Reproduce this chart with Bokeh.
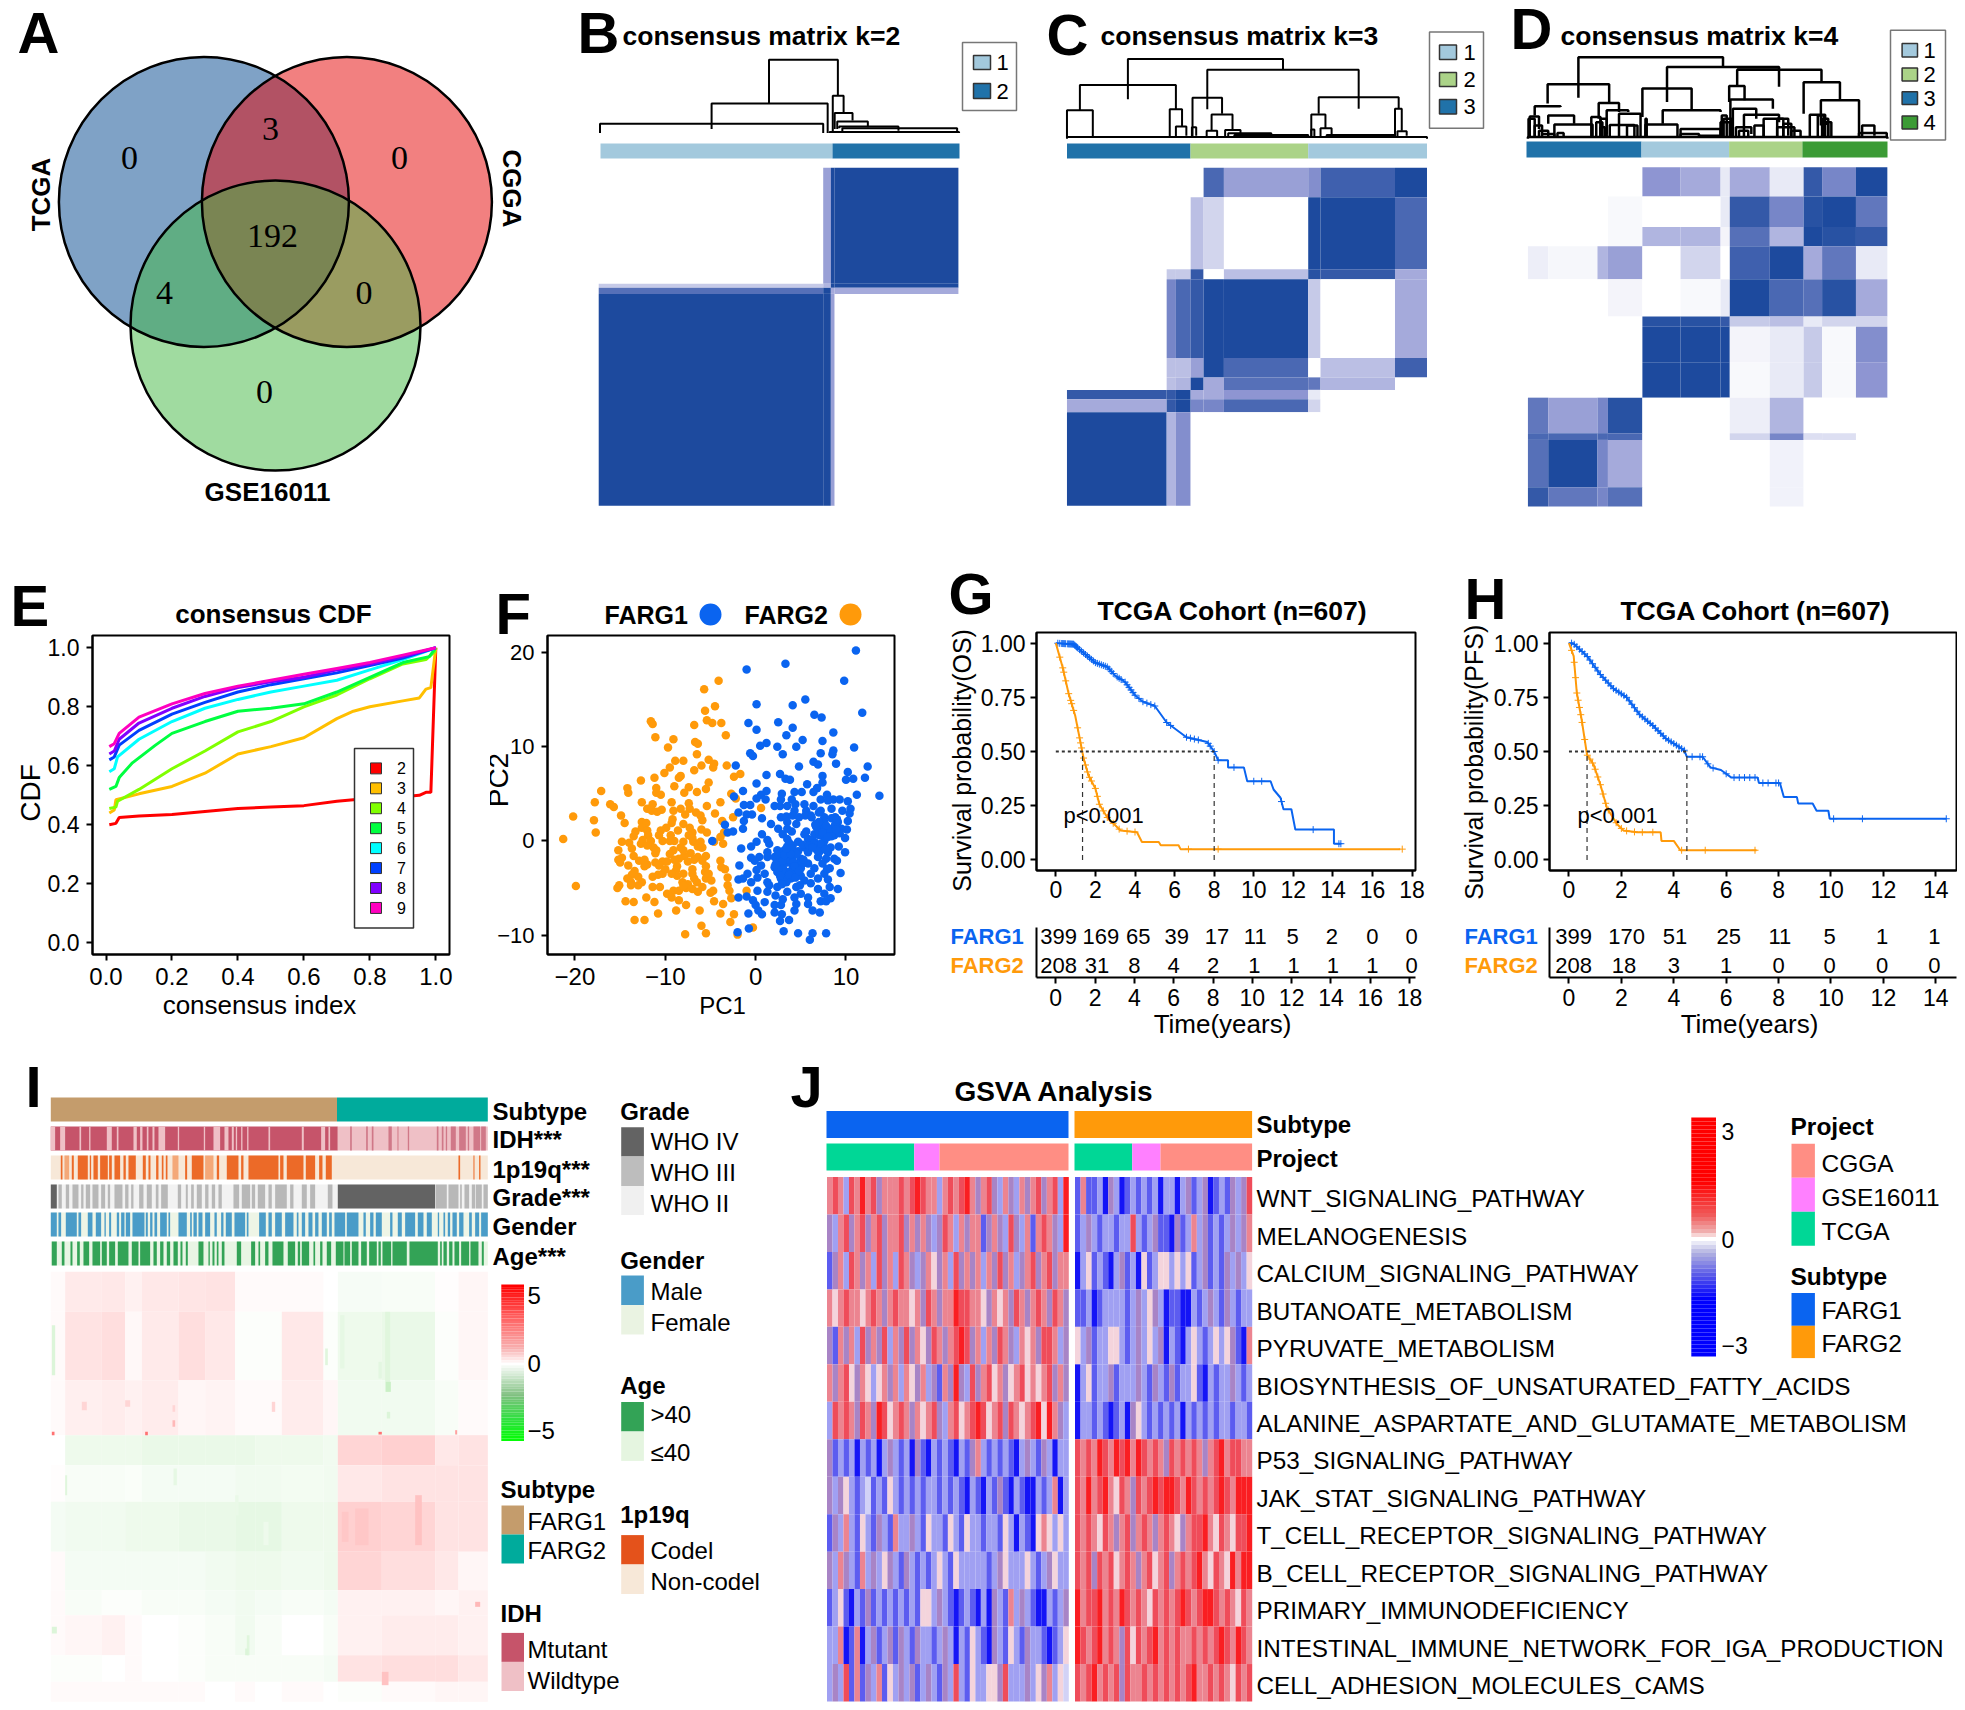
from bokeh.plotting import figure
from bokeh.models import Range1d, FixedTicker, PrintfTickFormatter
from bokeh.core.properties import value
from bokeh.layouts import row, column
from bokeh.embed import file_html
from bokeh.resources import INLINE
import numpy as np

SANS = "Liberation Sans"
SERIF = "Liberation Serif"

# ---------- A: Venn ----------
venn_names = ["TCGA", "CGGA", "GSE16011"]
venn_counts = ["0", "3", "0", "192", "4", "0", "0"]
# ---------- B-D: consensus matrices (read as blocks, 0..1 consensus) ----------
b_xe = [938, 1290, 1302, 1308, 1502]
b_ye = [495, 838, 850, 868, 1495]
b_vals = [[0, .45, 1, 1], [.25, .35, 1, 1], [.75, 1, .4, .4], [1, 1, .45, 0]]
c_xe = [108, 270, 285, 309, 330, 363, 500, 520, 641, 693]
c_ye = [495, 582, 795, 825, 1058, 1115, 1152, 1180, 1218, 1495]
c_vals = [[0, 0, 0, 0, .8, .45, .55, .85, 1],
          [0, 0, 0, .3, .2, 0, 1, 1, .8],
          [0, .25, .25, .9, 0, .3, .95, .9, .4],
          [0, .6, .8, .9, 1, 1, .25, 0, .4],
          [0, .3, .3, .45, 1, .8, 0, .3, .85],
          [0, .3, .35, 1, .4, .75, .7, .35, 0],
          [.9, .9, 1, .4, .4, .5, .1, 0, 0],
          [.4, .9, 1, .6, .6, .8, .2, 0, 0],
          [1, .35, .55, 0, 0, 0, 0, 0, 0]]
d_xe = [857, 890, 970, 987, 1043, 1105, 1170, 1185, 1250, 1305, 1335, 1390, 1441]
d_ye = [493, 580, 670, 727, 825, 935, 965, 1070, 1175, 1280, 1300, 1440, 1497]
d_vals = [[0, 0, 0, 0, .5, .4, .1, .4, .1, .9, .6, 1],
          [0, 0, 0, .03, 0, 0, .1, .9, .6, .95, 1, .7],
          [0, 0, 0, .03, .35, .35, .05, .75, .35, 1, .95, .9],
          [.08, .04, .35, .45, 0, .2, 0, .85, 1, .4, .7, .1],
          [0, 0, 0, .05, 0, .03, .1, 1, .8, .75, .95, .4],
          [0, 0, 0, 0, .95, .95, .9, .25, .3, .1, .2, .2],
          [0, 0, 0, 0, 1, 1, 1, .05, .1, .25, .03, .55],
          [0, 0, 0, 0, 1, 1, 1, .03, .1, .25, .03, .5],
          [.7, .45, .6, .95, 0, 0, 0, .08, .35, 0, 0, 0],
          [.8, .8, .8, .8, 0, 0, 0, .2, .6, .15, .15, 0],
          [.75, 1, .6, .4, 0, 0, 0, 0, .06, 0, 0, 0],
          [.9, .7, .6, .75, 0, 0, 0, 0, .06, 0, 0, 0]]
b_tree = [(1205, 1313, 305, 280, 175), (1115, 1297, 380, 392, 305), (940, 1290, 392, 392, 365),
          (1305, 1322, 392, 330, 282), (1308, 1336, 380, 355, 333), (1312, 1360, 380, 375, 358),
          (1315, 1408, 378, 385, 373), (1320, 1500, 392, 392, 378), (1300, 1503, 392, 392, 389)]
c_tree = [(207, 459, 292, 205, 173), (336, 582, 322, 320, 205), (129, 285, 325, 322, 250),
          (108, 150, 405, 405, 325), (275, 295, 405, 372, 322), (285, 302, 405, 400, 373),
          (312, 360, 405, 335, 288), (311, 318, 405, 400, 375), (343, 377, 385, 385, 337),
          (335, 352, 405, 405, 385), (365, 390, 405, 395, 383), (370, 440, 405, 400, 393),
          (380, 500, 405, 405, 398), (517, 647, 335, 320, 286), (505, 528, 405, 378, 337),
          (505, 510, 405, 405, 382), (520, 538, 405, 395, 378), (530, 640, 405, 405, 398),
          (641, 652, 405, 385, 320), (645, 660, 405, 400, 387), (108, 693, 409, 409, 404)]
d_tree = [(939, 1174, 288, 195, 168), (1083, 1265, 300, 255, 197), (1197, 1334, 250, 240, 205),
          (889, 989, 305, 300, 248), (868, 910, 340, 315, 313), (860, 875, 405, 380, 343),
          (890, 932, 365, 365, 340), (868, 880, 405, 395, 370), (900, 962, 405, 405, 367),
          (972, 1005, 350, 330, 303), (975, 985, 405, 405, 350), (985, 1020, 395, 330, 325),
          (1005, 1040, 405, 405, 335), (990, 1030, 405, 405, 368), (1043, 1123, 345, 325, 260),
          (1076, 1170, 365, 330, 325), (1048, 1100, 405, 405, 367), (1105, 1170, 405, 400, 380),
          (1184, 1209, 300, 295, 253), (1186, 1255, 405, 320, 293), (1190, 1228, 405, 350, 320),
          (1208, 1265, 405, 360, 338), (1195, 1220, 405, 395, 375), (1240, 1280, 405, 400, 350),
          (1305, 1364, 335, 295, 242), (1315, 1340, 405, 360, 338), (1333, 1395, 370, 405, 295),
          (1340, 1345, 405, 405, 365), (1400, 1420, 405, 400, 370), (1395, 1440, 405, 405, 392),
          (857, 1441, 409, 409, 404), (1197, 1265, 200, 200, 198), (968, 978, 405, 405, 360),
          (1172, 1180, 405, 405, 340), (1262, 1290, 405, 405, 375), (1335, 1345, 405, 405, 350),
          (960, 975, 405, 405, 345), (975, 982, 405, 405, 375), (1018, 1035, 405, 405, 370),
          (1175, 1188, 405, 405, 350), (1200, 1215, 405, 405, 385), (1225, 1240, 405, 405, 370),
          (1262, 1272, 405, 405, 350), (1272, 1285, 405, 405, 365), (1285, 1300, 405, 405, 385),
          (1328, 1338, 405, 405, 340), (1338, 1350, 405, 405, 360), (858, 868, 405, 405, 350),
          (875, 890, 405, 405, 385), (880, 900, 405, 405, 395), (905, 915, 405, 405, 392),
          (1048, 1050, 405, 405, 350), (1170, 1185, 405, 405, 360), (1105, 1135, 405, 405, 395),
          (1135, 1170, 405, 405, 400)]
# ---------- E: CDF ----------
cdf_k = ["2", "3", "4", "5", "6", "7", "8", "9"]
cdf_colors = ["#FF0000", "#FFBF00", "#80FF00", "#00FF40", "#00FFFF", "#0040FF", "#8000FF", "#FF00BF"]
cdf2_x = [.01, .03, .04, .1, .2, .3, .4, .5, .6, .7, .8, .9, .95, .97, .985, 1.0]
cdf2_y = [.40, .405, .425, .43, .435, .445, .455, .46, .465, .48, .49, .495, .50, .51, .51, 1.0]
cdf3_x = [.01, .025, .03, .1, .2, .3, .4, .5, .6, .7, .75, .8, .9, .95, .97, .985, 1.0]
cdf3_y = [.44, .45, .485, .505, .53, .575, .64, .665, .695, .76, .785, .80, .82, .83, .86, .865, 1.0]
cdf4_x = [.01, .03, .035, .1, .2, .3, .4, .5, .6, .7, .8, .9, .97, 1.0]
cdf4_y = [.455, .46, .48, .52, .59, .65, .715, .75, .80, .84, .895, .945, .96, .99]
cdf5_x = [.01, .03, .04, .08, .15, .2, .3, .4, .5, .6, .7, .8, .9, .98, 1.0]
cdf5_y = [.52, .53, .56, .61, .67, .71, .75, .785, .795, .81, .85, .90, .95, .97, 1.0]
cdf6_x = [.01, .025, .035, .1, .2, .3, .4, .5, .6, .7, .8, .9, 1.0]
cdf6_y = [.58, .59, .63, .69, .75, .795, .825, .85, .87, .89, .925, .96, 1.0]
cdf7_x = [.01, .025, .04, .1, .2, .3, .4, .5, .6, .7, .8, .9, 1.0]
cdf7_y = [.62, .63, .67, .72, .775, .815, .85, .875, .895, .915, .94, .965, 1.0]
cdf8_x = [.01, .025, .04, .1, .2, .3, .4, .5, .6, .7, .8, .9, 1.0]
cdf8_y = [.64, .65, .69, .745, .795, .835, .865, .885, .90, .925, .945, .97, 1.0]
cdf9_x = [.01, .025, .04, .1, .2, .3, .4, .5, .6, .7, .8, .9, 1.0]
cdf9_y = [.665, .675, .71, .765, .81, .845, .87, .89, .91, .93, .95, .975, 1.0]
# ---------- F: PCA ----------
farg2_pc1 = [-4.1,-5.7,-4.5,-5.6,-11.6,-11.4,-5.4,-4.8,-3.8,-6.8,-3.3,-11.1,-9.1,-6.7,-6.4,-9.7,-6.5,-8.9,-8.0,-5.2,-4.6,-4.7,-6.0,-3.2,-9.5,-10.1,-6.8,-11.2,-8.3,-8.5,-12.7,-2.4,-1.7,-5.2,-5.5,-9.0,-7.4,-11.0,-14.2,-14.1,-17.1,-11.0,-10.5,-7.9,-6.5,-2.7,-2.2,-17.8,-12.6,-9.3,-7.4,-3.9,-16.1,-15.7,-11.4,-5.4,-12.0,-11.5,-10.9,-10.4,-9.1,-8.3,-7.3,.6,-14.9,-20.2,-7.8,-6.6,-6.1,-4.5,-2.5,-17.9,-9.2,-5.9,-3.7,-14.5,-12.6,-12.1,-9.3,-8.0,-7.3,-12.6,-9.9,-12.0,-17.7,-13.3,-10.5,-8.6,-7.0,-6.0,-5.4,-3.5,-13.5,-11.9,-10.7,-9.4,-7.4,-3.9,-21.3,-12.5,-11.6,-10.3,-9.0,-8.0,-6.9,-6.1,-4.6,-3.6,-14.8,-14.0,-12.7,-8.3,-6.4,-5.9,-15.2,-13.7,-11.3,-9.1,-7.2,-9.5,-13.5,-11.1,-7.9,-6.4,-5.5,-15.2,-14.8,-12.9,-15.0,-10.3,-9.8,-11.1,-7.5,-5.9,-3.9,-12.0,-14.1,-12.3,-10.7,-8.7,-5.5,-3.8,-8.8,-13.4,-3.4,-10.3,-8.7,-7.0,-5.6,-13.7,-14.2,-11.4,-6.8,-5.5,-3.1,-13.8,-12.6,-8.1,-7.5,-6.5,-4.9,-13.0,-13.8,-15.1,-19.9,-15.3,-11.4,-10.6,-5.9,-7.0,-3.1,-9.1,-8.5,-6.4,-4.7,-1.0,-2.9,-9.8,-9.3,-12.1,-2.7,-14.4,-13.5,-8.5,-11.2,-4.6,-7.7,-3.6,-6.2,-8.8,-10.8,-3.9,-2.4,-13.4,-12.3,-6.0,-7.8,-5.5,-2.8,-2.0,-.3,-8.5,-10,-9.5,-7,-8,-11,-12,-13,-9,-8,-6.8,-6,-12.3,-10.8,-7.7,-7,-9.3,-5.2,-5,-8]
farg2_pc2 = [17.0,16.1,14.3,13.8,12.7,12.4,12.8,12.5,12.5,12.3,11.2,11.0,10.8,10.5,10.3,9.9,9.2,8.5,8.5,8.6,8.2,7.8,8.0,8.0,7.8,7.2,7.5,6.7,6.9,6.7,6.4,6.8,7.1,6.2,5.5,5.8,5.7,5.6,5.6,5.1,5.3,5.1,4.9,5.1,5.2,5.0,4.5,4.1,4.1,4.1,4.0,4.1,3.9,3.6,3.9,3.7,3.4,3.2,3.1,3.3,3.2,3.4,3.4,3.5,2.7,2.6,2.8,3.0,2.7,2.9,2.5,2.2,2.3,2.2,2.1,1.9,2.0,1.9,1.9,1.8,1.4,1.4,1.4,1.1,.9,1.0,1.1,1.1,.9,1.2,.9,.9,.5,.6,.6,.6,.6,.4,.2,.1,0,0,0,-.1,-.1,-.1,-.1,-.3,-.1,-.2,-.3,-.7,-.6,-.7,-1,-.8,-.7,-1,-1.3,-1.4,-1.6,-1.3,-1.6,-1.7,-1.6,-2,-1.8,-2.1,-2.3,-2.2,-2.2,-2.3,-2.2,-2.1,-2.1,-2.5,-2.6,-2.7,-2.6,-2.7,-2.7,-2.8,-3.1,-3.2,-3,-3.5,-3.7,-3.5,-3.3,-3.6,-4,-3.8,-4,-4,-3.9,-4.4,-4.4,-4.4,-4.6,-4.4,-4.2,-4.7,-4.7,-4.7,-4.8,-5,-4.9,-4.9,-4.9,-5.1,-4.7,-5.3,-5.3,-5.4,-5.3,-5.3,-5.3,-5.6,-6,-6,-6.1,-6.4,-6.5,-6.3,-6.5,-6.4,-6.8,-6.7,-7.4,-7.4,-7.7,-7.7,-7.8,-8.4,-8.4,-9.0,-9.9,-9.8,-8.6,-9.95,-9.2,-1.9,-3,0,.3,-1,-1,-.5,-3.8,-2,-3.5,-2,-.7,-2,-3.6,-5,-3,-3.5,-3.5,-5.5,-4.8]
farg1_pc1 = [11.1,3.3,-1.0,9.8,5.5,.1,4.1,11.8,6.5,7.3,-.8,2.5,4.1,.1,8.6,3.4,5.2,7.4,1.2,.5,2.4,4.5,10.9,8.6,8.5,7.2,3.0,-.6,-.3,6.4,6.9,8.9,12.4,4.8,-2.2,10.2,1.2,2.7,7.4,3.3,3.8,12.1,10.0,10.8,7.4,.1,5.7,6.8,6.4,-1.4,1.2,4.3,5.1,.6,2.9,11.2,13.7,7.9,-2.4,.1,1.1,2.8,4.0,7.2,8.0,8.6,9.3,10.2,-1.3,-.6,2.1,2.7,3.5,4.4,5.4,6.4,8.4,9.6,10.5,4.3,5.6,7.2,-1.9,-1.0,-.4,.7,2.8,3.4,4.1,4.8,6.1,7.6,8.4,10.4,-1.3,1.7,3.5,4.5,6.7,7.6,9.1,10.2,-3.4,-1.4,2.5,3.5,7.2,8.4,9.5,10.1,-3.1,-2.5,3.0,5.4,6.5,7.1,7.8,8.7,.7,9.9,3.5,5.8,4.7,6.5,7.6,1.3,1.5,.1,-4.8,-.5,-1.6,4.1,5.4,6.5,8.3,9.2,1.3,2.4,3.5,4.7,5.8,7.1,8.0,9.9,-.5,.4,1.3,2.1,3.0,4.1,5.0,6.9,7.8,8.7,-.1,2.4,3.5,4.7,5.8,7.4,9.0,-1.8,.6,2.1,3.0,4.1,5.0,6.5,8.2,.1,2.4,3.5,4.7,6.1,7.6,9.4,-.9,1.0,-1.9,-1.4,.2,2.8,3.9,5.4,6.9,8.0,-.5,1.3,3.4,6.1,.2,1.5,2.4,4.5,6.9,8.2,9.1,1.3,3.5,5.0,7.6,-1.9,-1.0,2.2,4.3,5.8,8.3,-.3,1.0,3.0,7.2,7.8,.0,2.1,2.8,4.5,5.8,-.8,.3,4.3,6.3,2.1,.7,7.1,2.9,3.7,2.7,-2.0,-.75,3.1,4.7,6.3,6.0,7.8,3.6,4.2,2.8,3.2,4.0,2.5,3.5,6.0,7.0,6.8,7.5,6.0,8.0,7.8,8.8,5.1,4.5,3.0,2.5,5.0,6.7,7.2,8.4,9.3,8.8,7.0,5.5,4.0,3.7,3.2,4.0,4.6,3.0,4.3,3.7,5.3,2.2,3.2,4.4,2.7,5.2,5.6,6.4,7.4,8.0,9.0,6.2,7.0,6.6,7.7,8.9,5.9,4.8,3.9,6.3,7.9,3.4,2.9,4.9]
farg1_pc2 = [20.2,18.8,18.2,17.0,15.0,14.5,14.4,13.6,13.4,13.1,12.5,12.6,12.0,11.8,11.5,11.2,10.7,10.6,10.4,10.1,10.0,10.0,9.9,9.6,9.2,9.3,9.2,9.3,9.0,8.4,8.1,8.2,7.9,7.9,8.0,7.3,7.0,7.1,6.9,6.6,6.5,6.7,6.5,6.6,6.2,6.1,6.0,5.6,5.2,5.3,5.3,5.2,5.2,4.9,5.0,4.9,4.8,4.9,4.7,4.5,4.4,4.4,4.4,4.4,4.3,4.4,4.4,4.2,3.8,3.8,3.7,3.7,3.7,3.9,3.9,3.7,3.4,3.2,3.4,3.2,3.2,3.2,3.0,2.8,2.8,2.4,2.5,2.6,2.7,2.5,2.7,2.5,2.4,2.9,2.1,1.8,2.0,1.8,1.8,2.0,2.0,2.1,1.7,1.3,1.3,1.3,1.3,1.3,1.3,1.2,.9,1.0,.7,.7,.7,.6,.7,.6,.7,.3,.2,.2,-.1,-.1,0,.1,-.3,-.1,0,-.6,-.8,-.5,-.7,-.7,-.7,-.6,-1.2,-1.0,-1.2,-1.1,-1.2,-1.1,-1.2,-1.2,-1.8,-1.7,-1.7,-1.7,-1.7,-1.7,-1.9,-1.7,-1.9,-1.9,-2.1,-2.3,-2.3,-2.4,-2.4,-2.4,-2.1,-2.6,-2.6,-2.8,-2.8,-2.9,-2.9,-2.9,-2.9,-3.1,-3.3,-3.3,-3.5,-3.5,-3.5,-3.4,-3.5,-3.5,-4.1,-4.0,-3.9,-4.0,-4.0,-4.2,-4.0,-4.1,-4.4,-4.4,-4.4,-4.5,-5.3,-4.7,-4.9,-4.9,-5.1,-4.9,-5.1,-5.4,-5.4,-5.6,-5.6,-6.0,-5.9,-5.8,-6.0,-6.0,-6.1,-6.3,-6.5,-6.2,-6.4,-6.4,-6.8,-6.8,-6.8,-6.7,-6.7,-7.7,-7.4,-7.4,-7.4,-7.6,-7.8,-7.6,-7.8,-8.4,-8.5,-9.7,-9.3,-9.6,-9.8,-9.8,-10.5,-9.8,-2,-2.3,-2,-3.8,-3.2,-1.4,-.6,.1,1,-1,-.5,-.3,1,1.6,1.7,-2.5,-1.4,-3,-3,-3.7,1.5,-.3,.5,.8,2.5,3,2.7,1,-.2,-1.0,-.8,-2.9,-2.1,-2.7,-3.6,-2.0,-2.5,-1.5,-3.9,-3.7,-.4,1.0,-.3,.9,.4,2.3,2.5,2.0,1.7,-.9,1.2,-.5,-3.2,-1.4,-.7,-3.0,-.8,-4.6,-4.7]
# ---------- G / H: survival ----------
os1_t = [0,.9,1.2,1.6,2,2.6,3,3.5,4,4.4,5,5.6,6.6,7.65,8,8.2,8.7,8.7,9.5,9.67,10.85,11,11.35,11.5,11.9,12.1,14.05,14.05,14.4]
os1_s = [1,.995,.97,.94,.91,.89,.85,.82,.76,.73,.71,.634,.566,.544,.5,.46,.46,.427,.427,.363,.363,.325,.287,.234,.234,.14,.14,.075,.075]
os2_t = [0,.34,.64,.98,1.25,1.4,1.65,2,2.2,2.6,3.27,4.1,4.35,5.2,5.3,6.2,6.3,17.4]
os2_s = [1,.89,.77,.665,.54,.47,.39,.33,.257,.196,.136,.128,.083,.083,.068,.068,.05,.05]
os1_cens = [.1,.2,.3,.35,.4,.45,.5,.6,.65,.7,.75,.8,.85,.9,.95,1,1.05,1.1,1.2,1.3,1.4,1.5,1.6,1.7,1.8,1.9,2,2.1,2.2,2.3,2.4,2.5,2.6,2.7,2.8,2.9,3.1,3.2,3.3,3.5,3.6,3.7,3.8,3.9,4,4.2,4.4,4.6,4.8,5,5.6,5.8,6.6,6.8,7,7.2,7.7,7.8,8,8.2,9,10,10.4,11.4,13,14.3,14.4]
os2_cens = [.2,.35,.4,.5,.65,.75,.8,.9,1.1,1.2,1.25,1.3,1.4,1.5,1.6,1.7,1.8,2,2.1,2.2,2.4,2.6,2.9,3.2,3.6,4,6.7,8.2,17.5]
pfs1_t = [0,.15,.69,1.2,1.7,2.2,2.7,3.2,3.7,4.4,4.5,5.1,5.4,5.8,6.2,7.2,7.25,8.05,8.2,8.7,8.75,9.3,9.45,9.9,9.95,14.4]
pfs1_s = [1,1,.94,.855,.79,.75,.67,.62,.56,.506,.476,.476,.427,.415,.38,.38,.355,.355,.29,.29,.26,.26,.227,.227,.19,.19]
pfs2_t = [0,.18,.3,.48,.69,.94,1.2,1.45,1.83,2.08,2.6,3.5,3.53,4,4.25,7.16]
pfs2_s = [1,.94,.77,.65,.485,.44,.347,.24,.166,.136,.128,.128,.088,.088,.045,.045]
pfs1_cens = [.1,.2,.3,.4,.5,.6,.7,.8,.9,1,1.1,1.2,1.3,1.4,1.5,1.6,1.7,1.8,1.9,2,2.1,2.2,2.3,2.4,2.5,2.6,2.7,2.8,2.9,3,3.1,3.2,3.3,3.4,3.5,3.6,3.7,3.8,3.9,4,4.1,4.2,4.3,4.4,4.7,5,5.1,5.3,5.5,6,6.3,6.5,6.7,6.9,7.1,7.4,7.6,7.9,8,10.1,11.2,14.4]
pfs2_cens = [.1,.2,.25,.3,.35,.4,.45,.5,.6,.7,.8,.9,1,1.1,1.2,1.3,1.4,1.5,1.8,2,2.2,2.5,2.8,3.2,4.3,5.2,7.1]
g_ticks = [0,2,4,6,8,10,12,14,16,18]
h_ticks = [0,2,4,6,8,10,12,14]
surv_ticks = [0,.25,.5,.75,1]
g_farg1 = ["399","169","65","39","17","11","5","2","0","0"]
g_farg2 = ["208","31","8","4","2","1","1","1","1","0"]
g_x1 = [.14,2.3,4.2,6.15,8.2,10.15,12.05,14.05,16.1,18.1]
g_x2 = [.14,2.1,4,6,8,10.1,12.1,14.1,16.1,18.1]
h_farg1 = ["399","170","51","25","11","5","1","1"]
h_farg2 = ["208","18","3","1","0","0","0","0"]
h_x1 = [.18,2.2,4.05,6.1,8.05,9.95,11.95,13.95]
h_x2 = [.18,2.1,4,6,8,9.95,11.95,13.95]
# ---------- I: annotation tracks as runs of samples (0..1311) ----------
idh_wild_left = [(0,13),(28,43),(86,91),(115,119),(168,183),(198,203),(248,258),(268,275),(288,293),(305,311),(323,343),(381,385),(459,463),(488,508),(521,533),(543,549),(555,559),(571,575),(589,593),(653,658),(753,759),(811,823),(833,838)]
idh_mut_right = [(898,903),(946,951),(963,968),(1013,1023),(1040,1043),(1071,1075),(1158,1163),(1173,1178),(1185,1189),(1200,1215),(1225,1245),(1251,1255),(1268,1288),(1291,1305)]
codel_runs = [(30,35),(63,69),(81,111),(117,121),(128,141),(148,171),(175,183),(191,208),(218,225),(233,255),(276,285),(293,299),(316,323),(333,338),(345,350),(403,409),(423,458),(498,505),(528,563),(571,578),(593,683),(688,698),(708,758),(765,793),(805,815),(825,843),(1223,1228),(1268,1271),(1285,1289)]
codel_mix = [(41,55),(365,383),(463,488)]
grade4_runs = [(0,18),(861,1153)]
grade3_runs = [(23,33),(45,55),(65,83),(91,98),(105,118),(125,143),(151,163),(171,178),(191,215),(223,233),(241,248),(265,278),(288,303),(315,323),(331,351),(381,391),(405,411),(421,429),(438,453),(463,473),(483,493),(503,513),(548,565),(573,598),(603,613),(621,643),(653,663),(673,708),(718,728),(753,768),(778,793),(831,845),(1155,1188),(1193,1223),(1228,1233),(1241,1255),(1263,1273),(1275,1293),(1298,1311)]
male_runs = [(0,18),(23,31),(45,78),(83,91),(111,125),(135,151),(161,165),(175,181),(198,205),(211,221),(225,238),(245,281),(285,291),(298,305),(311,319),(328,348),(353,358),(383,408),(418,423),(428,438),(443,455),(463,478),(491,498),(511,518),(525,543),(551,583),(588,593),(625,645),(653,663),(673,693),(703,728),(738,743),(753,763),(773,785),(793,803),(813,828),(835,843),(851,883),(888,923),(938,945),(958,968),(975,993),(1018,1025),(1041,1053),(1063,1093),(1101,1118),(1128,1143),(1161,1165),(1178,1183),(1191,1198),(1205,1218),(1225,1238),(1255,1263),(1273,1285),(1291,1311)]
old_runs = [(3,18),(33,41),(59,65),(79,87),(98,115),(125,148),(153,168),(175,193),(201,233),(243,263),(268,298),(308,318),(328,338),(348,358),(368,381),(389,395),(405,411),(443,458),(473,477),(485,491),(498,503),(513,521),(558,571),(601,613),(623,628),(643,653),(665,698),(711,733),(741,748),(753,775),(788,793),(808,815),(828,841),(855,878),(881,898),(903,923),(931,948),(955,978),(983,990),(995,1021),(1025,1068),(1076,1161),(1168,1173),(1178,1188),(1195,1205),(1211,1225),(1231,1255),(1259,1283),(1293,1299)]
# ---------- I: expression heatmap, read as blocks ----------
i_xe = [7,50,160,230,280,390,470,560,620,700,825,868,1000,1160,1230,1318]
i_ye = [10,130,335,500,590,700,850,965,1040,1160,1240,1300]
i_vals = [[.1,.45,.5,.3,.5,.55,.6,.1,.1,.1,0,-.25,-.2,.05,.2],
          [.1,.6,.7,.15,.45,.7,.5,-.1,-.1,.5,-.1,-.5,-.6,-.1,.2],
          [.1,.35,.4,.3,.4,.2,.25,.1,.1,.4,.2,-.4,-.4,-.2,.1],
          [0,-.5,-.5,-.5,-.6,-.6,-.6,-.6,-.5,-.5,-.4,.9,1,.5,.6],
          [.05,-.2,-.2,-.15,-.3,-.3,-.3,-.4,-.4,-.35,-.4,.5,.6,.6,.6],
          [-.3,-.4,-.4,-.5,-.5,-.6,-.6,-.7,-.7,-.5,-.5,1,.9,.6,.6],
          [.1,-.3,-.3,-.3,-.3,-.3,-.4,-.5,-.5,-.4,-.5,.9,.7,.5,.2],
          [.1,-.2,-.1,-.1,-.2,-.2,-.3,-.4,-.3,-.2,-.3,.3,.3,.2,.3],
          [.1,.2,.3,.1,0,-.1,-.2,-.4,-.2,0,-.2,.3,.4,.4,.3],
          [-.1,-.1,0,.1,0,-.1,-.2,-.2,-.2,-.2,-.3,.6,.7,.7,.5],
          [.1,.1,.1,.1,.1,.1,0,.1,0,.1,0,-.1,.1,.2,.2]]
i_spots = [(10,20,170,320,-1),(1010,1025,130,370,-.9),(875,888,140,300,-.7),(1080,1090,140,260,-.6),(990,1000,280,330,-.8),(1012,1027,340,370,-1.5),(1015,1025,430,450,-1),(830,838,240,290,-.9),(595,603,1100,1160,-.9),(372,380,455,475,1.5),(372,380,410,430,.9),(670,680,400,430,.9),(100,115,400,425,.9),(230,245,395,415,.9),(50,56,620,680,-.9),(375,385,600,650,-.7),(560,570,680,740,-.6),(645,660,760,830,-.5),(920,960,720,830,1.2),(1100,1120,680,830,1.3),(880,900,730,820,1.2),(1000,1020,1210,1250,1.3),(1280,1295,1000,1015,1.5),(10,25,1075,1095,-1),(590,600,1140,1160,-1),(10,18,490,500,3),(290,298,490,500,3),(990,1000,490,498,3),(1220,1226,485,498,2)]
# ---------- J: GSVA ----------
gsva_names = ["WNT_SIGNALING_PATHWAY","MELANOGENESIS","CALCIUM_SIGNALING_PATHWAY","BUTANOATE_METABOLISM","PYRUVATE_METABOLISM","BIOSYNTHESIS_OF_UNSATURATED_FATTY_ACIDS","ALANINE_ASPARTATE_AND_GLUTAMATE_METABOLISM","P53_SIGNALING_PATHWAY","JAK_STAT_SIGNALING_PATHWAY","T_CELL_RECEPTOR_SIGNALING_PATHWAY","B_CELL_RECEPTOR_SIGNALING_PATHWAY","PRIMARY_IMMUNODEFICIENCY","INTESTINAL_IMMUNE_NETWORK_FOR_IGA_PRODUCTION","CELL_ADHESION_MOLECULES_CAMS"]
gsva_left = [
 [1,2,1,-1,2,1,3,1,2,0,1,1,1,2,1,2,3,2,1,1,-1,1,2,1,2,3,1,0,1,2,0,-1,1,0,-1,1,0,1,2,0,1,2,-1,3],
 [0,-1,1,2,0,1,2,0,1,2,0,1,1,2,0,1,0,1,0,-1,0,2,1,-1,1,0,1,1,-2,0,1,0,-1,2,0,-1,1,-2,1,2,1,0,-1,3],
 [-2,0,1,-1,2,1,0,1,-1,2,0,1,-1,2,1,0,-1,0,1,.5,0,1,-1,2,0,1,0,1,-1,1,0,2,0,1,-1,0,1,2,0,1,2,0,1,1],
 [1,.5,1,2,1,1,.5,1,2,1,0,1,2,1,1,.5,1,0,2,1,0,1,1,3,2,2,1,1,.5,0,1,.5,1,0,2,1,0,1,2,1,0,2,1,0],
 [0,-2,1,0,1,-1,2,0,1,0,2,-1,1,0,2,0,1,.5,0,2,1,0,1,2,3,2,0,1,-1,1,0,2,1,0,-1,1,.5,1,0,2,2,1,-1,0],
 [1,0,1,2,.5,0,1,.5,-1,.5,1,0,1,-1,1,.5,0,1,-1,0,-2,1,0,3,0,-1,2,0,1,2,.5,1,0,.5,1,2,.5,1,.5,1,2,0,1,0],
 [-1,2,1,2,1,0,2,1,0,3,2,.5,1,2,1,0,1,.5,1,2,0,-1,1,2,.5,1,2,3,2,.5,1,2,0,2,1,.5,1,2,3,.5,3,1,0,-1],
 [0,-2,-1,-2,-1,-3,-1,-2,-1,-3,-1,0,-1,-2,-1,-3,0,-2,-3,-1,-2,-1,-2,-3,-1,-2,0,1,-1,-2,-1,-2,-1,-2,-3,-1,0,-1,-2,0,-1,-3,-1,-1],
 [0,-1,0,.5,-1,-2,-1,-.5,-2,-1,-2,.5,-1,-2,-1,-2,-1,-2,-1,-1,-2,-1,-2,-1,-2,-3,-1,-2,-3,-1,-2,0,-2,-3,-1,-2,-3,-3,-1,-2,-1,1,-3,-1],
 [-2,0,-1,1,-1,-2,.5,-1,-2,0,-1,-2,1,-1,-1,0,-1,-2,.5,-1,-1,-2,.5,-1,-2,.5,-1,-1,-2,-1,-1,-2,.5,-1,-3,-1,-2,-3,.5,1,.5,-1,.5,-1],
 [0,-1,1,0,-1,-2,1,-1,0,-1,.5,0,-1,-2,0,-1,-2,-1,-2,-1,.5,-1,-2,.5,-1,-1,-1,-1,-1,-2,-1,0,.5,-1,-1,-1,.5,-1,-2,-1,0,.5,-1,-1],
 [-2,-1,.5,-2,-3,-1,-2,0,-2,-1,-2,-1,-2,-1,-2,-1,-2,.5,.5,-1,0,-1,-2,-3,-2,-1,-2,-3,-1,-3,0,-1,-2,1,-1,0,-1,-2,-3,-3,-1,-2,-1,0],
 [-1,-1,1,-3,-2,1,-3,-1,0,-2,-1,0,-2,0,-1,-2,0,-1,-1,-2,-1,0,-1,-3,-1,-2,.5,-1,-2,-3,0,-1,-2,.5,-1,-2,0,-1,-1,-2,-3,-2,-1,.5],
 [-1,0,-1,2,-2,1,-2,0,-1,1,-2,.5,-1,0,-1,0,-2,-1,0,-1,-2,0,-1,2,-1,-2,.5,-1,-1,.5,.5,0,2,-1,-1,-1,0,-1,.5,0,1,-1,.5,-.5]]
gsva_right = [
 [-2,1,-2,-2,-1,-3,0,-1,-3,-2,-1,-2,-1,-2,-1,-3,-1,-1,-3,-1,0,-2,-1,0,-3,-2,-1,-2,0,-1,0,2],
 [-2,-1,0,-1,-2,-1,-1,-2,-1,-1,2,-1,-2,-1,0,-2,-2,-3,0,-2,-1,1,-1,0,-2,-1,-2,-1,0,-1,0,1],
 [-3,-1,.5,-2,-1,-2,-3,-1,0,-2,-1,-3,.5,-2,-1,.5,.5,-1,.5,-1,.5,-2,-1,0,-2,-1,-2,0,-1,0,-1,.5],
 [-2,-2,-1,-3,-2,-1,-1,-1,-1,-2,-1,0,-1,.5,0,-1,-3,-2,-2,-3,-3,-1,-2,-1,0,-1,-2,0,-1,-2,-1,-1],
 [.5,-1,0,-2,-1,-1,.5,.5,-1,-2,-1,0,-1,.5,-1,0,-3,-1,-2,-3,-1,.5,-1,-2,-1,.5,-1,.5,0,-2,-3,1],
 [-3,-1,.5,-2,-1,-1,0,-2,-1,-1,-1,0,-1,-2,0,-1,-2,0,-2,-1,-1,.5,-2,-3,-1,-2,-1,-1,0,-1,-2,-1],
 [-3,-1,-1,-2,-1,-2,-3,-2,-1,-3,0,.5,-1,-2,-1,-2,-1,-2,-1,-3,-1,-2,-1,-2,-1,-2,-1,-1,-2,-1,-1,-2],
 [2,1,2,1,3,2,1,3,2,3,1,3,2,1,2,1,0,2,1,2,1,2,1,0,1,2,3,1,2,2,1,1],
 [2,1,3,1,2,3,1,.5,2,1,0,2,1,2,3,2,3,3,2,1,3,2,1,2,1,2,3,2,1,3,3,3],
 [2,1,2,1,.5,2,1,0,1,2,0,1,2,1,0,1,2,1,.5,0,1,2,2,3,1,.5,2,1,.5,2,2,3],
 [2,1,2,0,2,1,2,.5,1,2,1,0,1,2,.5,1,2,0,1,2,1,2,3,1,.5,2,1,.5,3,1,3,3],
 [3,1,2,2,3,1,2,1,3,2,1,2,1,.5,2,1,2,1,2,3,2,1,2,3,3,2,1,2,1,.5,2,1],
 [3,2,1,2,3,1,2,1,0,2,.5,2,1,2,3,1,2,1,2,1,1,2,1,2,1,2,3,2,1,3,2,1],
 [2,1,2,3,1,2,1,2,0,2,1,1,2,1,2,1,2,1,2,1,2,3,1,1,2,1,2,1,.5,2,1,2]]
gsva_pal = {-3:"#1414F6",-2:"#5C5CF0",-1:"#A0A0F2",-.5:"#D2D2F6",0:"#A884C6",.5:"#F4D4DC",1:"#EC8490",2:"#EF4C5A",3:"#FA1E22"}

BLUE = "#0A64F0"; ORANGE = "#FF9A0A"; MAT = "#1D4A9E"
LIGHT = "#A3C9DD"; DARK = "#2072A9"; GREEN = "#ABD388"; DGREEN = "#3B9B35"
FR = {}

def hex2(c): return np.array([int(c[i:i+2], 16) for i in (1, 3, 5)], float)
def lerp(a, b, t):
    v = hex2(a) + (hex2(b) - hex2(a)) * t
    return "#%02X%02X%02X" % tuple(int(round(x)) for x in v)
def grad(stops, t):
    for (t0, c0), (t1, c1) in zip(stops, stops[1:]):
        if t <= t1:
            return lerp(c0, c1, (t - t0) / (t1 - t0))
    return stops[-1][1]

def fig(pl, pt, pr, pb, fl=None, ft=None, fr=None, fb=None, xr=None, yr=None):
    fl = pl if fl is None else fl; ft = pt if ft is None else ft
    fr = pr if fr is None else fr; fb = pb if fb is None else fb
    data = xr is not None
    kw = {} if data else dict(x_axis_type=None, y_axis_type=None)
    xr = xr or (fl, fr); yr = yr or (fb, ft)
    p = figure(width=pr - pl, height=pb - pt, x_range=Range1d(*xr), y_range=Range1d(*yr),
               toolbar_location=None, output_backend="svg",
               min_border_left=fl - pl, min_border_right=pr - fr, min_border_top=ft - pt,
               min_border_bottom=pb - fb, outline_line_color=None, **kw)
    FR[p.id] = (fl, ft, fr, fb, xr, yr)
    if data:
        p.grid.visible = False
    return p

def px(p, x):
    fl, ft, fr, fb, xr, yr = FR[p.id]
    return xr[0] + (np.asarray(x, float) - fl) / (fr - fl) * (xr[1] - xr[0])
def py(p, y):
    fl, ft, fr, fb, xr, yr = FR[p.id]
    return yr[0] + (fb - np.asarray(y, float)) / (fb - ft) * (yr[1] - yr[0])

def Td(p, x, y, s, size=22, bold=False, align="left", base="middle", color="black", angle=0, font=SANS):
    p.text([float(x)], [float(y)], text=[s], text_font=value(font), text_font_size=f"{size}px",
           text_font_style="bold" if bold else "normal", text_align=align, text_baseline=base,
           text_color=color, angle=angle, angle_units="deg", level="overlay")
def T(p, x, y, s, **k):
    Td(p, px(p, x), py(p, y), s, **k)
def Q(p, l, t, r, b, c, lc=None, lw=1):
    p.quad(left=px(p, l), right=px(p, r), top=py(p, t), bottom=py(p, b), fill_color=c,
           line_color=lc, line_width=lw)
def letter(p, x, y, s):
    T(p, x, y - 20, s, size=58, bold=True)

def blocks(p, xe, ye, vals, kx, ky, x0, y0, colorf):
    l, r, t, b, c = [], [], [], [], []
    for i, rowv in enumerate(vals):
        for j, v in enumerate(rowv):
            l.append(x0 + xe[j] * kx); r.append(x0 + xe[j + 1] * kx)
            t.append(y0 + ye[i] * ky); b.append(y0 + ye[i + 1] * ky); c.append(colorf(v))
    Q(p, l, t, r, b, c)

def tree(p, merges, kx, ky, x0, lw=2):
    xs, ys = [], []
    for xl, xr, yl, yr, yt in merges:
        xs.append([x0 + xl * kx, x0 + xl * kx, x0 + xr * kx, x0 + xr * kx])
        ys.append([yl * ky, yt * ky, yt * ky, yr * ky])
    p.multi_line(xs, ys, line_color="black", line_width=lw)

def boxlegend(p, box, sw, items, xt):
    Q(p, [box[0]], [box[1]], [box[2]], [box[3]], "white", "#777777", 1.5)
    for (t, b, c), s in zip(sw[2], items):
        Q(p, [sw[0]], [t], [sw[1]], [b], c, "#333333", 1.5)
        T(p, xt, (t + b) / 2, s, size=22)

ky1 = 530 / 1568
mat_stops = [(0, "#FFFFFF"), (.5, "#8E95D2"), (1, MAT)]
matc = lambda v: grad(mat_stops, v)
# ===== A =====
A = fig(0, 0, 575, 560)
A.circle([203.4], [201.4], radius=145, fill_color="#00458D", fill_alpha=.5, line_color=None)
A.circle([346.4], [201.4], radius=145, fill_color="#E50101", fill_alpha=.5, line_color=None)
A.circle([275], [325], radius=145, fill_color="#41B741", fill_alpha=.5, line_color=None)
A.circle([203.4, 346.4, 275], [201.4, 201.4, 325], radius=145, fill_color=None, line_color="black", line_width=2.5)
for (x, y), s in zip([(129, 157), (270, 128), (399, 157), (272, 235), (164, 292), (363.5, 292), (264, 391)], venn_counts):
    T(A, x, y, s, size=34, align="center", font=SERIF)
T(A, 40, 194, venn_names[0], size=26, bold=True, align="center", angle=90)
T(A, 511, 188, venn_names[1], size=26, bold=True, align="center", angle=-90)
T(A, 267, 491, venn_names[2], size=26, bold=True, align="center")
letter(A, 17, 52, "A")
# ===== B =====
B = fig(575, 0, 1040, 560)
k = 1000 / 1568
blocks(B, b_xe, b_ye, b_vals, k, ky1, 0, 0, matc)
tree(B, b_tree, k, ky1, 0)
Q(B, [600, 832], [143, 143], [832, 959], [158, 158], [LIGHT, DARK])
boxlegend(B, (962, 42, 1016, 110), (973, 990, [(55, 69, LIGHT), (83, 98, DARK)]), ["1", "2"], 996)
T(B, 622, 35, "consensus matrix k=2", size=26.5, bold=True)
letter(B, 577, 52, "B")
# ===== C =====
C = fig(1040, 0, 1505, 560)
k = 965 / 1568
blocks(C, c_xe, c_ye, c_vals, k, ky1, 1000, 0, matc)
tree(C, c_tree, k, ky1, 1000)
Q(C, [1066.5, 1190, 1307.7], [143] * 3, [1190, 1307.7, 1426.5], [158] * 3, [DARK, GREEN, LIGHT])
boxlegend(C, (1429, 31.4, 1483, 127.8), (1439, 1456, [(44.6, 59, LIGHT), (72, 86, GREEN), (99, 113.6, DARK)]), ["1", "2", "3"], 1463)
T(C, 1100, 35, "consensus matrix k=3", size=26.5, bold=True)
letter(C, 1046, 54, "C")
# ===== D =====
D = fig(1505, 0, 1957, 560)
blocks(D, d_xe, d_ye, d_vals, k, ky1, 1000, 0, matc)
tree(D, d_tree, k, ky1, 1000, lw=2.5)
Q(D, [1526, 1641, 1728.6, 1801.9], [141] * 4, [1641, 1728.6, 1801.9, 1887], [157] * 4, [DARK, LIGHT, GREEN, DGREEN])
boxlegend(D, (1890, 29.7, 1945, 139.6), (1901.6, 1917, [(43, 56.5, LIGHT), (67.6, 80.4, GREEN), (91.3, 104, DARK), (115.6, 128.4, DGREEN)]), ["1", "2", "3", "4"], 1923)
T(D, 1560, 35, "consensus matrix k=4", size=26.5, bold=True)
letter(D, 1510, 48, "D")

def style_axes(p, xt, yt, size=22, ysize=None, lw=2, standoff=(7, 7)):
    for ax, t, so, sz in ((p.xaxis[0], xt, standoff[0], size), (p.yaxis[0], yt, standoff[1], ysize or size)):
        ax.ticker = FixedTicker(ticks=t)
        ax.major_label_text_font = SANS
        ax.major_label_text_font_size = f"{sz}px"
        ax.major_label_text_color = "black"
        ax.axis_line_color = "black"; ax.axis_line_width = lw
        ax.major_tick_line_color = "black"; ax.major_tick_line_width = lw
        ax.major_tick_in = 0; ax.major_tick_out = 6; ax.minor_tick_line_color = None
        ax.major_label_standoff = so
    p.outline_line_color = "black"; p.outline_line_width = lw

# ===== E =====
E = fig(0, 560, 490, 1062, 92, 635, 449, 955, (-.041, 1.0415), (-.0395, 1.0416))
style_axes(E, [0, .2, .4, .6, .8, 1], [0, .2, .4, .6, .8, 1], size=24, ysize=23)
E.xaxis[0].formatter = PrintfTickFormatter(format="%.1f")
E.yaxis[0].formatter = PrintfTickFormatter(format="%.1f")
for xs, ys, c in zip([cdf2_x, cdf3_x, cdf4_x, cdf5_x, cdf6_x, cdf7_x, cdf8_x, cdf9_x],
                     [cdf2_y, cdf3_y, cdf4_y, cdf5_y, cdf6_y, cdf7_y, cdf8_y, cdf9_y], cdf_colors):
    E.line(xs, ys, line_color=c, line_width=3)
Q(E, [354], [748.3], [413], [928.3], "white", "#333333", 1.5)
for i, (c, s) in enumerate(zip(cdf_colors, cdf_k)):
    cy = 768.3 + 20 * i
    Q(E, [370], [cy - 5.5], [381], [cy + 5.5], c, "#333333", 1)
    T(E, 401, cy, s, size=16, align="center")
T(E, 273, 613, "consensus CDF", size=26, bold=True, align="center")
T(E, 259, 1006, "consensus index", size=26, align="center")
T(E, 30, 793, "CDF", size=28, align="center", angle=90)
letter(E, 10, 625, "E")
# ===== F =====
F = fig(490, 560, 940, 1062, 547, 634, 894, 954, (-23.04, 15.37), (-12.06, 21.8))
style_axes(F, [-20, -10, 0, 10], [-10, 0, 10, 20], size=24, ysize=22)
F.xaxis[0].major_label_overrides = {-20: "\u221220", -10: "\u221210", 0: "0", 10: "10"}
F.yaxis[0].major_label_overrides = {-10: "\u221210", 0: "0", 10: "10", 20: "20"}
F.scatter(farg2_pc1, farg2_pc2, size=8.5, fill_color=ORANGE, line_color=None)
F.scatter(farg1_pc1, farg1_pc2, size=8.5, fill_color=BLUE, line_color=None)
T(F, 604, 613, "FARG1", size=25, bold=True)
T(F, 744, 613, "FARG2", size=25, bold=True)
F.scatter(px(F, [710, 850]), py(F, [613, 613]), size=22, fill_color=[BLUE, ORANGE], line_color=None, level="overlay")
T(F, 722, 1005, "PC1", size=24, align="center")
T(F, 498, 779, "PC2", size=28, align="center", angle=90)
letter(F, 495, 632, "F")

def km(pl, pr, fl, fr, xr, xt, c1, c2, cens1, cens2, med, title, ylab, tx, ptx, ltr, lx, ly, ylx, yly):
    p = fig(pl, 560, pr, 900, fl, 632, fr, 874, xr, (-.0485, 1.049))
    style_axes(p, xt, surv_ticks, size=23, standoff=(4, 5))
    p.yaxis[0].formatter = PrintfTickFormatter(format="%.2f")
    for (t, s), cens, col in ((c1, cens1, BLUE), (c2, cens2, ORANGE)):
        p.line(t, s, line_color=col, line_width=2)
        p.scatter(cens, np.interp(cens, t, s), marker="cross", size=7, line_color=col, line_width=1)
    p.line([0, med[1]], [.5, .5], line_color="#333333", line_dash="3 3", line_width=2)
    for m in med:
        p.line([m, m], [0, .5], line_color="#333333", line_dash="5 4", line_width=1.2)
    T(p, tx, 610, title, size=26.5, bold=True, align="center")
    T(p, ylx, yly, ylab, size=25, align="center", angle=90)
    T(p, ptx, 818, "p<0.001", size=22)
    letter(p, lx, ly, ltr)
    return p

def table(pl, pr, fl, fr, xr, xt, r1, r2, x1, x2, labx, timex):
    p = fig(pl, 900, pr, 1062, fl, 927, fr, 977, xr, (0, 50))
    style_axes(p, xt, [], size=23, standoff=(5, 5))
    p.outline_line_color = None
    p.yaxis[0].major_tick_line_color = None
    for vals, xs, yp in ((r1, x1, 936), (r2, x2, 964.5)):
        for v, x in zip(vals, xs):
            Td(p, x, py(p, yp), v, size=22, align="center")
    T(p, labx, 936, "FARG1", size=22, bold=True, color=BLUE)
    T(p, labx, 964.5, "FARG2", size=22, bold=True, color=ORANGE)
    T(p, timex, 1023, "Time(years)", size=26, align="center")
    return p

G = km(940, 1460, 1036, 1415, (-.976, 18.17), g_ticks, (os1_t, os1_s), (os2_t, os2_s), os1_cens, os2_cens,
       [1.35, 8.0], "TCGA Cohort (n=607)", "Survival probability(OS)", 1232, 1063, "G", 948, 612, 961, 762)
Gt = table(940, 1460, 1036, 1415, (-.98, 18.3), g_ticks, g_farg1, g_farg2, g_x1, g_x2, 950, 1222)
H = km(1460, 1957, 1549, 1956, (-.743, 14.79), h_ticks, (pfs1_t, pfs1_s), (pfs2_t, pfs2_s), pfs1_cens, pfs2_cens,
       [.69, 4.5], "TCGA Cohort (n=607)", "Survival probability(PFS)", 1755, 1577, "H", 1464, 617, 1473, 764)
Ht = table(1460, 1957, 1549, 1956, (-.743, 14.79), h_ticks, h_farg1, h_farg2, h_x1, h_x2, 1464, 1749)

# ===== I =====
I = fig(0, 1062, 785, 1702)
x_s = lambda s: 50.3 + s / 3
def track(y0, y1, base, runs, color, x0=0, x1=1311):
    if base: Q(I, [x_s(x0)], [y0], [x_s(x1)], [y1], base)
    Q(I, [x_s(a) for a, b in runs], [y0] * len(runs), [x_s(b) for a, b in runs], [y1] * len(runs), color)
Q(I, [50.3, 336.5], [1097, 1097], [336.5, 487.3], [1121, 1121], ["#C49C6C", "#00AB9C"])
track(1126, 1150, "#C6546A", idh_wild_left, "#EFC0C6", 0, 861)
track(1126, 1150, "#EFC0C6", idh_mut_right, "#D07888", 861, 1311)
track(1155, 1179, "#F7E8D8", codel_mix, "#F4A878")
track(1155, 1179, None, codel_runs, "#EC6A28")
track(1184, 1208, "#F2F2F2", grade3_runs, "#B8B8B8")
track(1184, 1208, None, grade4_runs, "#636363")
track(1212, 1236, "#EEF5E6", male_runs, "#4A9CC8")
track(1241, 1265, "#E8F5E4", old_runs, "#33A356")
def icol(v):
    return lerp("#FFFFFF", "#FFD0D0", v) if v > 0 else lerp("#FFFFFF", "#DCF5D9", -v)
blocks(I, i_xe, i_ye, i_vals, 1 / 3, 1 / 3, 48, 1268, icol)
Q(I, [48 + a / 3 for a, b, c, d, v in i_spots], [1268 + c / 3 for a, b, c, d, v in i_spots],
  [48 + b / 3 for a, b, c, d, v in i_spots], [1268 + d / 3 for a, b, c, d, v in i_spots],
  [icol(v) for a, b, c, d, v in i_spots])
i_stops = [(0, "#FF0000"), (.2, "#FF6060"), (.4, "#F8B0B0"), (.5, "#FFFFFF"), (.7, "#80C080"), (.85, "#30E040"), (1, "#00FF00")]
st = np.linspace(0, 1, 61)
Q(I, [500.8] * 60, 1284 + st[:-1] * 156.5, [523.5] * 60, 1284 + st[1:] * 156.5, [grad(i_stops, t) for t in st[:-1]])
T(I, 527, 1295, "5", size=24); T(I, 527, 1363, "0", size=24); T(I, 527, 1430, "\u22125", size=24)
for y, s in zip([1110.6, 1138.8, 1168.6, 1196.8, 1225.8, 1255.6], ["Subtype", "IDH***", "1p19q***", "Grade***", "Gender", "Age***"]):
    T(I, 492, y, s, size=24, bold=True)
def leg(p, xs, xe, xt, title, ty, tops, cols, labs, ys, size=24):
    T(p, xs - 1, ty, title, size=size, bold=True)
    Q(p, [xs] * len(cols), tops[:-1], [xe] * len(cols), tops[1:], cols)
    for y, s in zip(ys, labs):
        T(p, xt, y, s, size=size)
leg(I, 620.7, 643.4, 650, "Grade", 1110.6, [1126.7, 1156, 1185.6, 1214.6], ["#636363", "#BDBDBD", "#F0F0F0"], ["WHO IV", "WHO III", "WHO II"], [1141, 1172, 1203])
leg(I, 620.7, 643.4, 650, "Gender", 1260, [1275, 1304.6, 1334], ["#4A9CC8", "#EAF3E2"], ["Male", "Female"], [1291, 1322])
leg(I, 620.7, 643.4, 650, "Age", 1384.6, [1401.5, 1431, 1460.4], ["#33A356", "#E5F5E0"], [">40", "\u226440"], [1413.6, 1451.7])
leg(I, 620.7, 643.4, 650, "1p19q", 1514, [1534.6, 1564, 1593.5], ["#E4521B", "#F7E8D8"], ["Codel", "Non-codel"], [1550, 1581])
leg(I, 501, 523.5, 527, "Subtype", 1489, [1505, 1534, 1563], ["#C49C6C", "#00AB9C"], ["FARG1", "FARG2"], [1520.5, 1550])
leg(I, 501, 523.5, 527, "IDH", 1612.5, [1632.4, 1661.4, 1690.5], ["#C6546A", "#EFC0C6"], ["Mtutant", "Wildtype"], [1648.6, 1679.7])
letter(I, 25, 1106, "I")
# ===== J =====
J = fig(785, 1062, 1957, 1702)
Q(J, [826, 1074], [1110.6] * 2, [1068, 1251.6], [1137.5] * 2, [BLUE, ORANGE])
TC, GS, CG = "#00D796", "#FF80FF", "#FF8E84"
Q(J, [826, 913.7, 939, 1074, 1131.7, 1160], [1143] * 6, [913.7, 939, 1068, 1131.7, 1160, 1251.6], [1170] * 6, [TC, GS, CG, TC, GS, CG])
rh = (1701 - 1176.5) / 14
for data, x0, x1 in ((gsva_left, 826.5, 1068.3), (gsva_right, 1074.5, 1251.7)):
    n = len(data[0]); w = (x1 - x0) / n
    l, r, t, b, c = [], [], [], [], []
    for i, rowv in enumerate(data):
        for j, v in enumerate(rowv):
            l.append(x0 + j * w); r.append(x0 + (j + 1) * w)
            t.append(1176.5 + i * rh); b.append(1176.5 + (i + 1) * rh); c.append(gsva_pal[v])
    Q(J, l, t, r, b, c)
for i, s in enumerate(gsva_names):
    T(J, 1256, 1176.5 + (i + .5) * rh + 3, s, size=24.3)
T(J, 1256, 1124, "Subtype", size=24, bold=True)
T(J, 1256, 1158, "Project", size=24, bold=True)
T(J, 1054, 1091, "GSVA Analysis", size=28, bold=True, align="center")
j_stops = [(0, "#FF0000"), (.26, "#FF0000"), (.4, "#F05A5A"), (.47, "#F0B0B0"), (.5, "#FFFFFF"), (.56, "#B0B0E0"), (.65, "#5A5AE8"), (.75, "#0000FF"), (1, "#0000FF")]
Q(J, [1690.8] * 60, 1117 + st[:-1] * 239, [1715.5] * 60, 1117 + st[1:] * 239, [grad(j_stops, t) for t in st[:-1]])
T(J, 1721, 1131, "3", size=23); T(J, 1721, 1239, "0", size=23); T(J, 1721, 1345, "\u22123", size=23)
leg(J, 1791, 1814.4, 1821, "Project", 1126, [1143.3, 1177.3, 1211.3, 1245.3], [CG, GS, TC], ["CGGA", "GSE16011", "TCGA"], [1163, 1197, 1231], size=24.5)
leg(J, 1791, 1814.4, 1821, "Subtype", 1275.5, [1292.5, 1325.3, 1357.6], [BLUE, ORANGE], ["FARG1", "FARG2"], [1310, 1343], size=24.5)
letter(J, 790, 1106, "J")

page = column(row(A, B, C, D), row(E, F, column(G, Gt), column(H, Ht)), row(I, J))
open("out.html", "w").write(file_html(page, INLINE))
